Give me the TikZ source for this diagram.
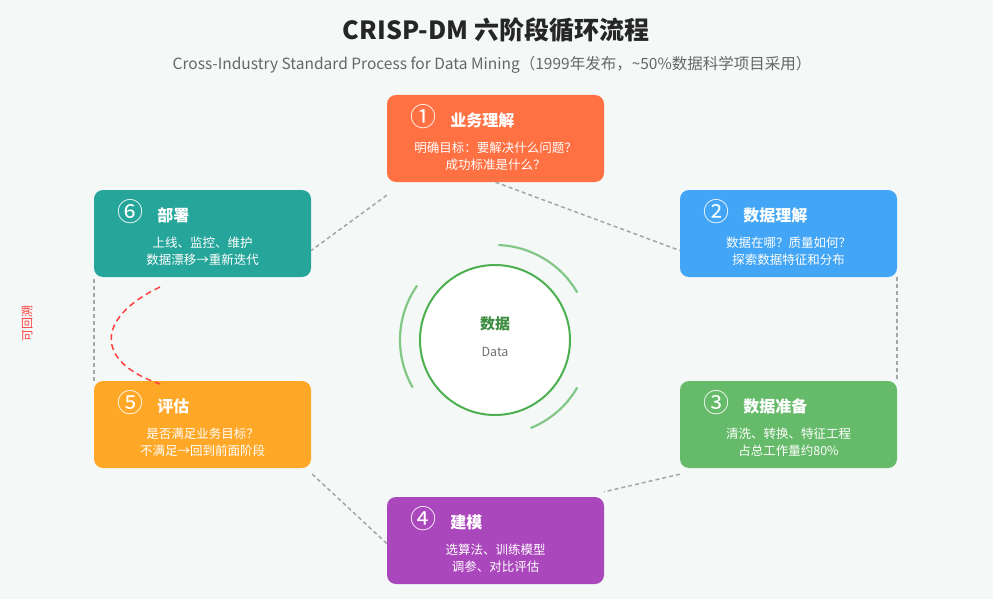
\documentclass[tikz,border=0pt]{standalone}
\usepackage{fontspec}
\setmainfont{Noto Sans CJK SC}
\usetikzlibrary{positioning,calc}
\definecolor{bgc}{HTML}{F4F9F8}
\definecolor{cA}{HTML}{FF7043}
\definecolor{cB}{HTML}{42A5F5}
\definecolor{cC}{HTML}{66BB6A}
\definecolor{cD}{HTML}{AB47BC}
\definecolor{cE}{HTML}{FFA726}
\definecolor{cF}{HTML}{26A69A}
\definecolor{ring}{HTML}{4CAF50}
\newcommand{\stage}[4]{%
  \node[stage, fill=#1] (#2) {};
  \node[anchor=west, font=\fontsize{26}{26}\selectfont, text=white] at ($(#2.north west)+(20pt,-22pt)$) {#3};
  \node[anchor=north, font=\fontsize{12.5}{17}\selectfont, text=white, align=center] at ($(#2.north)+(0,-44pt)$) {#4};
}
\begin{document}
\begin{tikzpicture}[x=1pt, y=-1pt,
    stage/.style={rectangle, rounded corners=9pt, minimum width=217pt, minimum height=87pt, inner sep=0pt},
    link/.style={draw=gray!70, line width=1.5pt, dash pattern=on 4pt off 3pt},
    head/.style={font=\fontsize{16}{16}\selectfont\bfseries, text=white, anchor=west}
  ]
  \fill[bgc] (0,0) rectangle (993,599);
  \useasboundingbox (0,0) rectangle (993,599);
  % Title
  \node[font=\fontsize{25}{25}\selectfont\bfseries, text=black!85] (title) at (496,30) {CRISP-DM 六阶段循环流程};
  \node[font=\fontsize{15.5}{16}\selectfont, text=black!60] (sub) at (492,65) {Cross-Industry Standard Process for Data Mining（1999年发布，\textasciitilde50\%数据科学项目采用）};
  % Stages
  \begin{scope}[shift={(495.5,138.5)}]\stage{cA}{s1}{①}{明确目标：要解决什么问题？\\成功标准是什么？}\end{scope}
  \begin{scope}[shift={(788.5,233.5)}]\stage{cB}{s2}{②}{数据在哪？质量如何？\\探索数据特征和分布}\end{scope}
  \begin{scope}[shift={(788.5,424.5)}]\stage{cC}{s3}{③}{清洗、转换、特征工程\\占总工作量约80\%}\end{scope}
  \begin{scope}[shift={(495.5,540.5)}]\stage{cD}{s4}{④}{选算法、训练模型\\调参、对比评估}\end{scope}
  \begin{scope}[shift={(202.5,424.5)}]\stage{cE}{s5}{⑤}{是否满足业务目标？\\不满足→回到前面阶段}\end{scope}
  \begin{scope}[shift={(202.5,233.5)}]\stage{cF}{s6}{⑥}{上线、监控、维护\\数据漂移→重新迭代}\end{scope}
  \node[head] at ($(s1.north west)+(60pt,-26pt)$) {业务理解};
  \node[head] at ($(s2.north west)+(60pt,-26pt)$) {数据理解};
  \node[head] at ($(s3.north west)+(60pt,-26pt)$) {数据准备};
  \node[head] at ($(s4.north west)+(60pt,-26pt)$) {建模};
  \node[head] at ($(s5.north west)+(60pt,-26pt)$) {评估};
  \node[head] at ($(s6.north west)+(60pt,-26pt)$) {部署};
  % Cycle links
  \draw[link] ($(s1.south west)+(0,-13pt)$) -- ($(s6.east)+(0,-17pt)$);
  \draw[link] (s1.south) -- ($(s2.west)+(0,-17pt)$);
  \draw[link] (s2.south east) -- (s3.north east);
  \draw[link] ($(s3.south west)+(0,-6pt)$) -- ($(s4.north east)+(0,5pt)$);
  \draw[link] ($(s4.west)+(0,-3pt)$) -- ($(s5.south east)+(0,-5pt)$);
  \draw[link] (s5.north west) -- (s6.south west);
  % Backtrack
  \draw[red!75, line width=1.5pt, dash pattern=on 6pt off 4pt] (160,287) .. controls (95,318) and (95,362) .. (160,384);
  \node[rotate=90, text=red!75, font=\fontsize{12}{12}\selectfont] (back) at (27,323) {可回溯};
  % Data core
  \node[circle, draw=ring, line width=2pt, fill=white, minimum size=150pt] (core) at (495,340) {};
  \node[font=\fontsize{15}{15}\selectfont\bfseries, text=ring!80!black] at (495,324) {数据};
  \node[font=\fontsize{12.5}{13}\selectfont, text=black!55] at (495,352) {Data};
  \draw[ring!70, line width=2.2pt] ($(core)+(-150:95pt)$) arc[start angle=-150, end angle=-215, radius=95pt];
  \draw[ring!70, line width=2.2pt] ($(core)+(-30:95pt)$) arc[start angle=-30, end angle=-68, radius=95pt];
  \draw[ring!70, line width=2.2pt] ($(core)+(30:95pt)$) arc[start angle=30, end angle=88, radius=95pt];
\end{tikzpicture}
\end{document}
